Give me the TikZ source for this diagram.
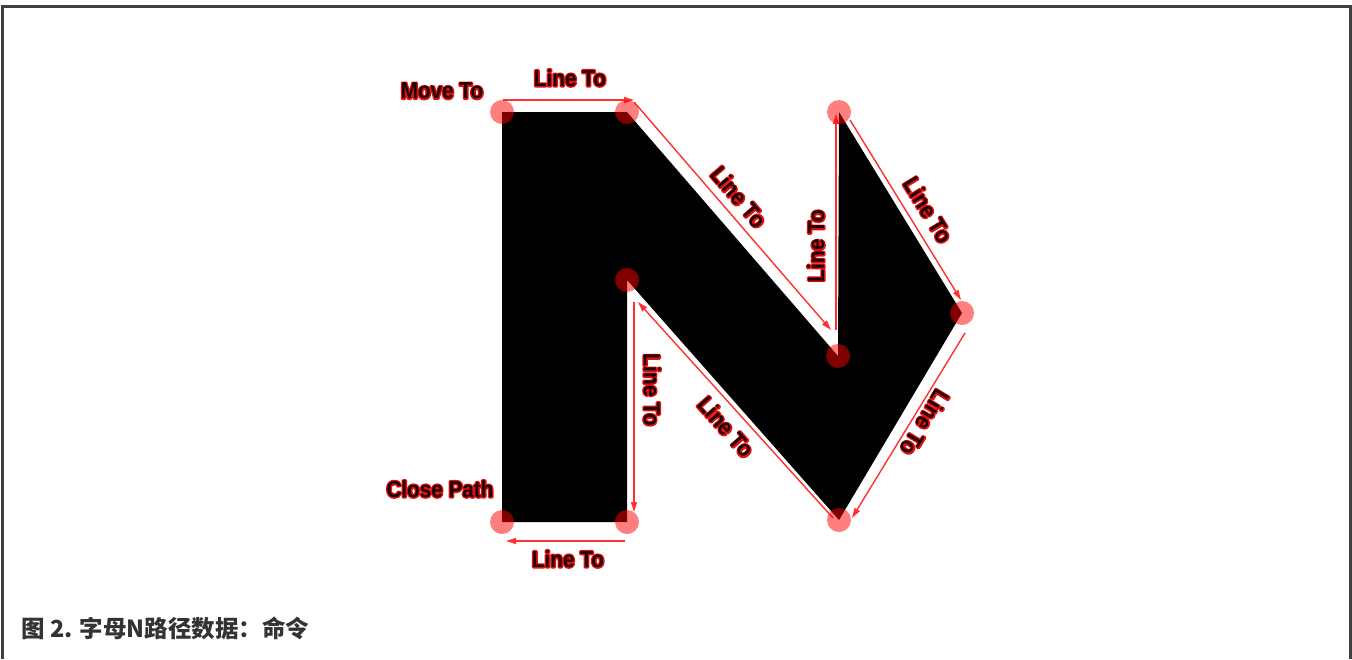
\documentclass[tikz,border=0pt]{standalone}
\usepackage{fontspec}
\newfontfamily\lblfont{Liberation Sans}[FakeStretch=0.9]
\newfontfamily\cjk{Noto Sans CJK SC}
\usetikzlibrary{arrows.meta}
\definecolor{framegray}{HTML}{404040}
\definecolor{arrowred}{HTML}{FF3030}
\definecolor{glowred}{HTML}{E01010}
\definecolor{textdark}{HTML}{1A0000}
\definecolor{capgray}{HTML}{333333}
\newcommand\glowtext[1]{%
  \setbox0=\hbox{\lblfont\bfseries\fontsize{23}{23}\selectfont #1}%
  \hbox{\rlap{\color{glowred}\special{pdf:literal direct 1 Tr 2.8 w 1 j}\copy0\special{pdf:literal direct 0 Tr}}%
    \color{textdark}\copy0}}
\tikzset{
  frameline/.style={draw=framegray, line width=3pt},
  shapefill/.style={fill=black},
  vdot/.style={fill=red, opacity=0.5},
  arrowline/.style={draw=arrowred, line width=1.4pt, -{Triangle[length=10pt,width=6pt]}},
  lbl/.style={inner sep=0pt},
}
\begin{document}
\begin{tikzpicture}[x=1pt,y=-1pt]
\useasboundingbox (0,0) rectangle (1352,659);
\draw[frameline] (2.5,659) -- (2.5,6) -- (1350.5,6) -- (1350.5,659);
% vertices
\coordinate (p0) at (502,112);
\coordinate (p1) at (627,112);
\coordinate (p2) at (838,356);
\coordinate (p3) at (839,112);
\coordinate (p4) at (962,313);
\coordinate (p5) at (839,520);
\coordinate (p6) at (627,280);
\coordinate (p7) at (627,522);
\coordinate (p8) at (502,522);
\fill[shapefill] (p0) -- (p1) -- (p2) -- (p3) -- (p4) -- (p5) -- (p6) -- (p7) -- (p8) -- cycle;
% arrows
\coordinate (a1s) at (503,100); \coordinate (a1e) at (634,100);
\coordinate (a2s) at (634,102); \coordinate (a2e) at (831,330);
\coordinate (a3s) at (836,330); \coordinate (a3e) at (836,114);
\coordinate (a4s) at (850,120); \coordinate (a4e) at (961,300);
\coordinate (a5s) at (965,333); \coordinate (a5e) at (852,518);
\coordinate (a6s) at (833,518); \coordinate (a6e) at (638,302);
\coordinate (a7s) at (634,302); \coordinate (a7e) at (634,512);
\coordinate (a8s) at (625,541); \coordinate (a8e) at (506,541);
\draw[arrowline] (a1s) -- (a1e);
\draw[arrowline] (a2s) -- (a2e);
\draw[arrowline] (a3s) -- (a3e);
\draw[arrowline] (a4s) -- (a4e);
\draw[arrowline] (a5s) -- (a5e);
\draw[arrowline] (a6s) -- (a6e);
\draw[arrowline] (a7s) -- (a7e);
\draw[arrowline] (a8s) -- (a8e);
% vertex dots
\foreach \p in {p0,p1,p2,p3,p4,p5,p6,p7,p8}
  \fill[vdot] (\p) circle[radius=12pt];
% labels
\node[lbl] (lmove) at (442,91) {\glowtext{Move To}};
\node[lbl] (ltop) at (570,78) {\glowtext{Line To}};
\node[lbl, rotate=-49.4] (ld1) at (739,197) {\glowtext{Line To}};
\node[lbl, rotate=90] (lv1) at (816,246) {\glowtext{Line To}};
\node[lbl, rotate=-58.5] (ld2) at (928,210) {\glowtext{Line To}};
\node[lbl, rotate=-121.3] (ld3) at (925,423) {\glowtext{Line To}};
\node[lbl, rotate=-48.6] (ld4) at (726,427) {\glowtext{Line To}};
\node[lbl, rotate=-90] (lv2) at (652,390) {\glowtext{Line To}};
\node[lbl] (lclose) at (440,489) {\glowtext{Close Path}};
\node[lbl] (lbot) at (568,559) {\glowtext{Line To}};
% caption
\node[anchor=base west, text=capgray, font=\cjk\bfseries\fontsize{23.5}{23.5}\selectfont, inner sep=0pt] (cap) at (21,637) {图 2. 字母N路径数据：命令};
\end{tikzpicture}
\end{document}
